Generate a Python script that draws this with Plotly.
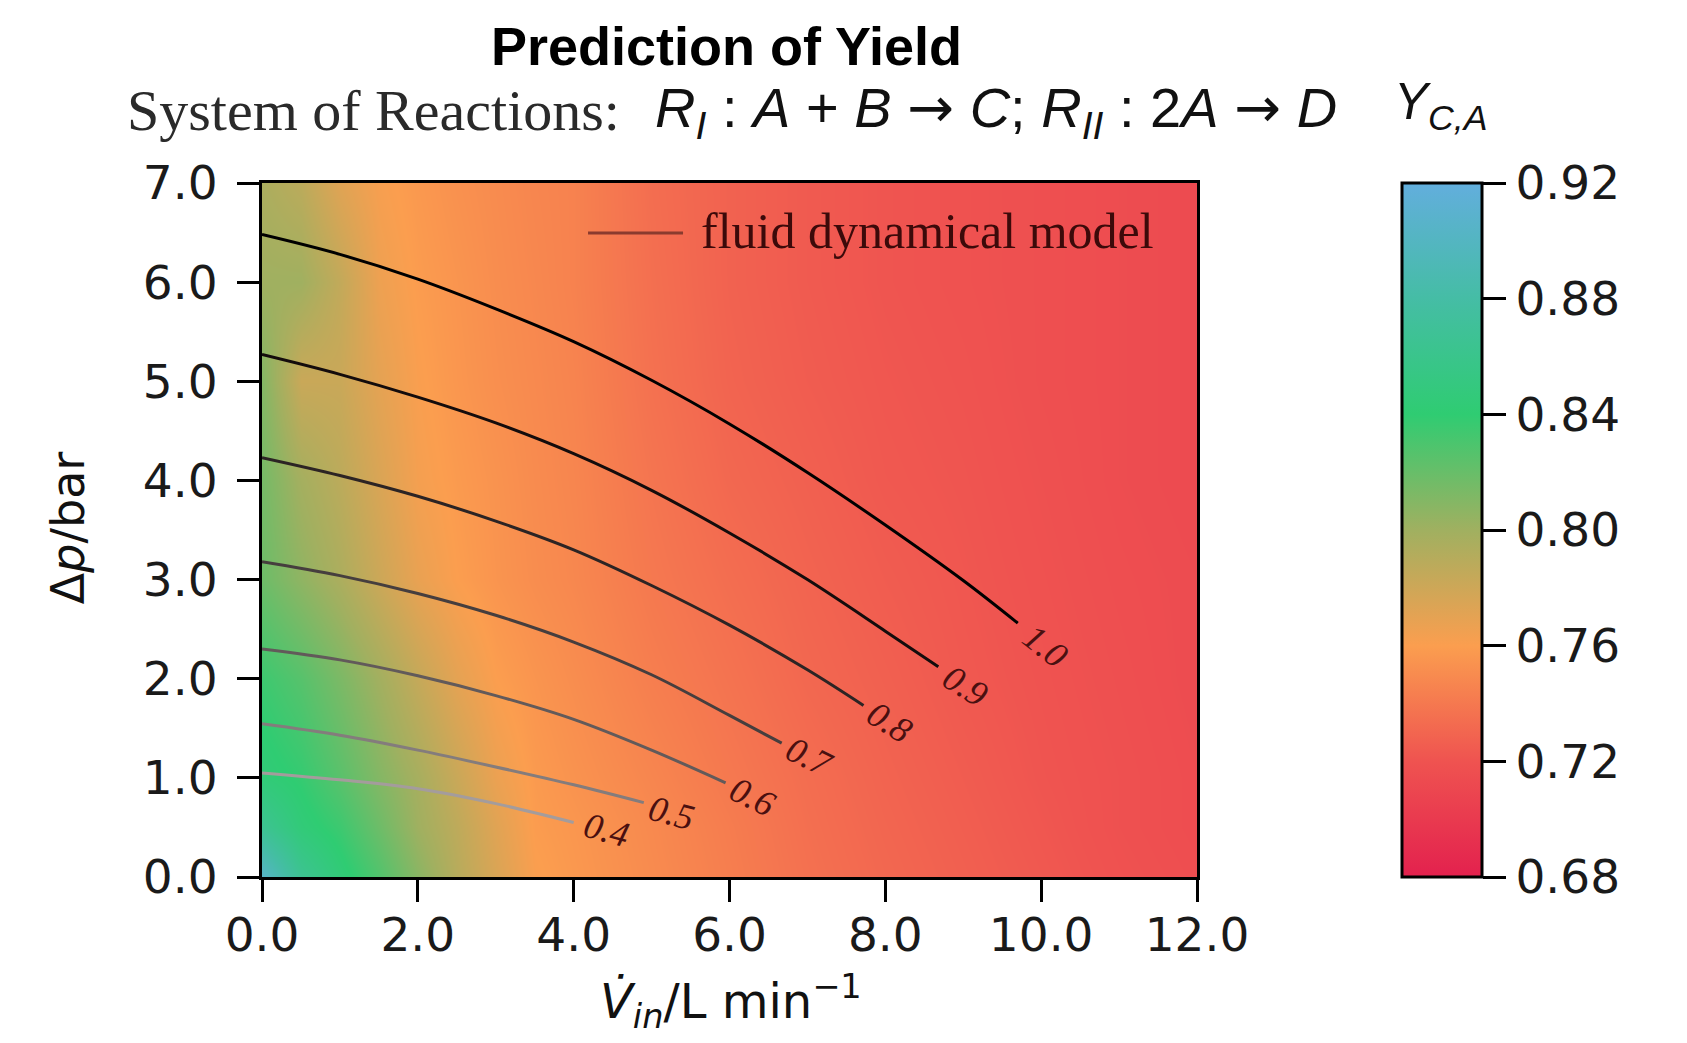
import plotly.graph_objects as go

# ---------------- data ----------------
flow_rate = [0, 0.5, 1, 1.5, 2, 2.5, 3, 3.5, 4, 5, 6, 7, 8, 9, 10, 11, 12]   # V_in / L min^-1
pressure = [0, 0.5, 1, 2, 3, 4, 5, 6, 7]                                     # Δp / bar

yield_y0 = [0.905, 0.865, 0.845, 0.828, 0.808, 0.790, 0.775, 0.761, 0.757, 0.750, 0.743, 0.736, 0.731, 0.727, 0.723, 0.719, 0.716]
yield_y05 = [0.865, 0.845, 0.835, 0.818, 0.800, 0.787, 0.772, 0.759, 0.756, 0.749, 0.742, 0.735, 0.730, 0.726, 0.722, 0.718, 0.715]
yield_y1 = [0.845, 0.838, 0.825, 0.810, 0.797, 0.782, 0.767, 0.758, 0.754, 0.747, 0.740, 0.734, 0.729, 0.725, 0.721, 0.718, 0.715]
yield_y2 = [0.835, 0.826, 0.813, 0.799, 0.784, 0.770, 0.760, 0.755, 0.751, 0.743, 0.737, 0.731, 0.727, 0.723, 0.720, 0.717, 0.714]
yield_y3 = [0.818, 0.806, 0.795, 0.781, 0.768, 0.760, 0.755, 0.751, 0.748, 0.740, 0.734, 0.729, 0.725, 0.722, 0.719, 0.716, 0.714]
yield_y4 = [0.815, 0.798, 0.788, 0.775, 0.763, 0.758, 0.754, 0.750, 0.747, 0.738, 0.731, 0.727, 0.723, 0.721, 0.718, 0.715, 0.713]
yield_y5 = [0.810, 0.782, 0.782, 0.770, 0.761, 0.756, 0.752, 0.749, 0.746, 0.736, 0.729, 0.725, 0.722, 0.720, 0.717, 0.715, 0.713]
yield_y6 = [0.800, 0.800, 0.785, 0.766, 0.759, 0.755, 0.751, 0.748, 0.745, 0.735, 0.728, 0.724, 0.721, 0.719, 0.717, 0.715, 0.713]
yield_y7 = [0.795, 0.788, 0.772, 0.762, 0.757, 0.753, 0.750, 0.747, 0.745, 0.734, 0.728, 0.724, 0.721, 0.719, 0.717, 0.715, 0.713]

# fluid dynamical model iso-lines (level, x, y)
level_10_x = [0, 1, 2, 3, 4, 5, 6, 7, 8, 9, 9.7]
level_10_y = [6.48, 6.28, 6.03, 5.73, 5.40, 5.01, 4.57, 4.08, 3.55, 2.99, 2.56]
level_09_x = [0, 1, 2, 3, 4, 5, 6, 7, 8, 8.68]
level_09_y = [5.27, 5.07, 4.84, 4.58, 4.27, 3.90, 3.47, 3.00, 2.48, 2.12]
level_08_x = [0, 1, 2, 3, 4, 5, 6, 7, 7.72]
level_08_y = [4.23, 4.05, 3.84, 3.59, 3.30, 2.94, 2.54, 2.09, 1.73]
level_07_x = [0, 1, 2, 3, 4, 5, 6, 6.67]
level_07_y = [3.18, 3.04, 2.86, 2.64, 2.37, 2.04, 1.63, 1.35]
level_06_x = [0, 1, 2, 3, 4, 5, 5.95]
level_06_y = [2.30, 2.19, 2.03, 1.83, 1.59, 1.28, 0.95]
level_05_x = [0, 1, 2, 3, 4, 4.9]
level_05_y = [1.545, 1.43, 1.28, 1.11, 0.93, 0.75]
level_04_x = [0, 1, 2, 3, 4]
level_04_y = [1.05, 0.98, 0.89, 0.74, 0.55]

level_names = ["1.0", "0.9", "0.8", "0.7", "0.6", "0.5", "0.4"]
label_x = [10.05, 9.03, 8.05, 7.03, 6.3, 5.26, 4.42]
label_y = [2.33, 1.93, 1.56, 1.21, 0.81, 0.65, 0.47]

x_ticks = [0, 2, 4, 6, 8, 10, 12]
y_ticks = [0, 1, 2, 3, 4, 5, 6, 7]
cbar_ticks = [0.68, 0.72, 0.76, 0.80, 0.84, 0.88, 0.92]

# ---------------- styles ----------------
line_colors = ["#000000", "#140c0c", "#2c2424", "#463e3e", "#625a5a", "#847c7c", "#a49c9c"]
label_angles = [38, 32, 32, 26, 26, 15, 15]

colorscale = [
    [0.0, "#e3214e"],
    [1 / 6, "#ef5350"],
    [2 / 6, "#fb9e4f"],
    [3 / 6, "#a0b060"],
    [4 / 6, "#2fcc72"],
    [5 / 6, "#45bda5"],
    [1.0, "#62aedd"],
]

SANS = "DejaVu Sans"
SERIF = "Liberation Serif"
ARROW = '<span style="font-family:DejaVu Sans">→</span>'

fig = go.Figure()

fig.add_trace(go.Heatmap(
    x=flow_rate, y=pressure,
    z=[yield_y0, yield_y05, yield_y1, yield_y2, yield_y3, yield_y4, yield_y5, yield_y6, yield_y7],
    zmin=0.68, zmax=0.92, zsmooth="best", colorscale=colorscale,
    hoverinfo="skip",
    colorbar=dict(
        x=1.2193, xanchor="left", y=0.5, yanchor="middle", len=1.0, lenmode="fraction",
        thickness=80, xpad=0, ypad=0, outlinewidth=3, outlinecolor="black",
        ticks="outside", ticklen=23, tickwidth=3, tickcolor="black",
        tickvals=cbar_ticks, ticktext=[f"{v:.2f}" for v in cbar_ticks],
        tickfont=dict(family=SANS, size=47, color="#1a1a1a"),
    ),
))

curves = [
    (level_10_x, level_10_y), (level_09_x, level_09_y), (level_08_x, level_08_y),
    (level_07_x, level_07_y), (level_06_x, level_06_y), (level_05_x, level_05_y),
    (level_04_x, level_04_y),
]
for (cx, cy), col, name in zip(curves, line_colors, level_names):
    fig.add_trace(go.Scatter(
        x=cx, y=cy, mode="lines", name=name, showlegend=False,
        line=dict(color=col, width=3, shape="spline", smoothing=1.0),
        hoverinfo="skip",
    ))

annotations = []
for lx, ly, name, ang in zip(label_x, label_y, level_names, label_angles):
    annotations.append(dict(
        x=lx, y=ly, xref="x", yref="y", text=f"<i>{name}</i>", showarrow=False,
        textangle=ang, font=dict(family=SERIF, size=36, color="#4a1010"),
    ))

math_text = (f"<i>R</i><sub><i>I</i></sub> : <i>A</i> + <i>B</i> {ARROW} <i>C</i>; "
             f"<i>R</i><sub><i>II</i></sub> : 2<i>A</i> {ARROW} <i>D</i>")

# title & subtitle
annotations += [
    dict(x=0.4963, y=1.197, xref="paper", yref="paper", xanchor="center", yanchor="middle",
         text="<b>Prediction of Yield</b>", showarrow=False,
         font=dict(family="Liberation Sans", size=54, color="black")),
    dict(x=-0.1465, y=1.104, xref="paper", yref="paper", xanchor="left", yanchor="middle",
         text="System of Reactions:", showarrow=False,
         font=dict(family=SERIF, size=58, color="#2a2a2a")),
    dict(x=0.4182, y=1.104, xref="paper", yref="paper", xanchor="left", yanchor="middle",
         text=math_text, showarrow=False,
         font=dict(family="Liberation Sans", size=56, color="#111111")),
    dict(x=1.2086, y=1.112, xref="paper", yref="paper", xanchor="left", yanchor="middle",
         text="<i>Y</i><sub><i>C,A</i></sub>", showarrow=False,
         font=dict(family="Liberation Sans", size=51, color="#111111")),
    # axis titles
    dict(x=-0.2075, y=0.504, xref="paper", yref="paper", xanchor="center", yanchor="middle",
         text="Δ<i>p</i>/bar", textangle=-90, showarrow=False,
         font=dict(family=SANS, size=46, color="#111111")),
    dict(x=0.5016, y=-0.18, xref="paper", yref="paper", xanchor="center", yanchor="middle",
         text="<i>V̇</i><sub><i>in</i></sub>/L min<sup>−1</sup>", showarrow=False,
         font=dict(family=SANS, size=48, color="#111111")),
    # legend text
    dict(x=0.4674, y=0.931, xref="paper", yref="paper", xanchor="left", yanchor="middle",
         text="fluid dynamical model", showarrow=False,
         font=dict(family=SERIF, size=50, color="#3c0a0a")),
]

shapes = [
    dict(type="line", xref="paper", yref="paper", x0=0.3487, x1=0.4503, y0=0.928, y1=0.928,
         line=dict(color="#8a3b2e", width=3)),
]

axis_common = dict(
    showline=True, linecolor="black", linewidth=3, mirror=True,
    ticks="outside", ticklen=22, tickwidth=3, tickcolor="black",
    showgrid=False, zeroline=False, tickformat=".1f",
    tickfont=dict(family=SANS, size=47, color="#1a1a1a"),
)

# the page body adds an 8 px offset, so the figure is sized to fit inside the window
fig.update_layout(
    width=1679, height=1035, autosize=False,
    margin=dict(l=254, r=490, t=175, b=166),
    paper_bgcolor="white", plot_bgcolor="white",
    xaxis=dict(range=[0, 12], tickvals=x_ticks, ticklabelstandoff=-7, **axis_common),
    yaxis=dict(range=[0, 7], tickvals=y_ticks, ticklabelstandoff=10, **axis_common),
    annotations=annotations, shapes=shapes, showlegend=False,
)

fig.write_html("out.html")
